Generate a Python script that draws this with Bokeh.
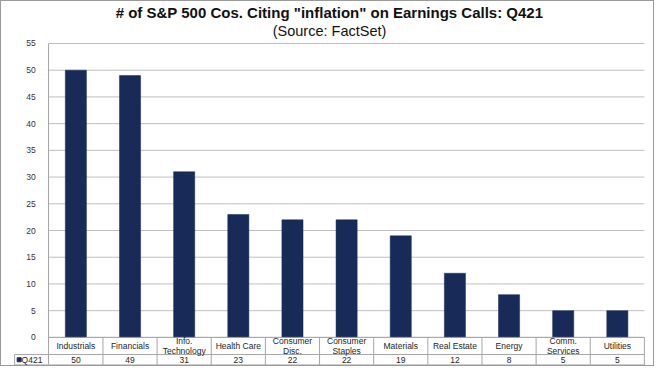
from bokeh.plotting import figure
from bokeh.models import Range1d, FixedTicker, Title, ColumnDataSource
from bokeh.embed import file_html
from bokeh.resources import INLINE
from bokeh.core.properties import value

# ---- data ----
categories = ["Industrials", "Financials", "Info.\nTechnology", "Health Care",
              "Consumer\nDisc.", "Consumer\nStaples", "Materials", "Real Estate",
              "Energy", "Comm.\nServices", "Utilities"]
q421 = [50, 49, 31, 23, 22, 22, 19, 12, 8, 5, 5]
series_name = "Q421"
y_ticks = [0, 5, 10, 15, 20, 25, 30, 35, 40, 45, 50, 55]
title_text = '# of S&P 500 Cos. Citing "inflation" on Earnings Calls: Q421'
subtitle_text = "(Source: FactSet)"

# ---- styling ----
FONT = "Liberation Sans"
NAVY = "#172a58"
LINE = "#a6a6a6"
GRID = "#bfbfbf"
TXT = "#1e1e1e"
ROW1 = 3.21        # depth of category-name row (data units below 0)
ROW2 = 5.16        # depth of the table bottom
LEFT_CELL = 0.632  # width of the series-name cell, in category widths
Y_MAX = y_ticks[-1]

n = len(categories)
centers = [i + 0.5 for i in range(n)]
src = ColumnDataSource(dict(x=centers, cat=categories, val=q421,
                            val_txt=[str(v) for v in q421]))

p = figure(width=654, height=366, output_backend="svg", toolbar_location=None,
           x_range=Range1d(-LEFT_CELL - 0.02, n + 0.02),
           y_range=Range1d(-ROW2 - 0.1, Y_MAX + 0.93),
           x_axis_location=None,
           min_border_left=12, min_border_right=10, min_border_top=35, min_border_bottom=2,
           background_fill_color="white", border_fill_color="white",
           outline_line_color=None)
p.styles = {"border": "1px solid #9a9a9a"}

# titles: main title on top, subtitle stacked just above the plot area
p.title.text = title_text
p.title.align = "center"
p.title.text_font = FONT
p.title.text_font_size = "15px"
p.title.text_font_style = "bold"
p.title.text_color = "#111111"
p.title.standoff = 0
p.add_layout(Title(text=subtitle_text, align="center", text_font=FONT,
                   text_font_size="14.5px", text_font_style="normal",
                   text_color="#111111", standoff=0), "above")

# y axis drawn at the start of the categories (x = 0)
p.yaxis.fixed_location = 0
p.yaxis.bounds = (-ROW2, Y_MAX)
p.yaxis.ticker = FixedTicker(ticks=y_ticks)
p.yaxis.axis_line_color = LINE
p.yaxis.major_tick_line_color = None
p.yaxis.minor_tick_line_color = None
p.yaxis.major_label_text_font = FONT
p.yaxis.major_label_text_font_size = "8.5px"
p.yaxis.major_label_text_color = "#333333"
p.yaxis.major_label_standoff = 7

p.xgrid.visible = False
p.ygrid.visible = False
# horizontal gridlines only across the plotting area
p.segment(x0=[0] * len(y_ticks), x1=[n] * len(y_ticks), y0=y_ticks, y1=y_ticks,
          line_color=GRID, line_width=1)

# bars
p.vbar(x="x", top="val", bottom=0, width=0.39, source=src,
       fill_color=NAVY, line_color=NAVY, line_width=0.5)

# data table under the chart
p.segment(x0=[0, -LEFT_CELL, -LEFT_CELL], x1=[n, n, n], y0=[0, -ROW1, -ROW2],
          y1=[0, -ROW1, -ROW2], line_color=LINE, line_width=1)
bounds = list(range(1, n + 1))
p.segment(x0=bounds, x1=bounds, y0=[0] * n, y1=[-ROW2] * n,
          line_color=LINE, line_width=1)
p.segment(x0=[-LEFT_CELL], x1=[-LEFT_CELL], y0=[-ROW1], y1=[-ROW2],
          line_color=LINE, line_width=1)
p.text(x="x", y=-ROW1 / 2, text="cat", source=src, text_align="center",
       text_baseline="middle", text_font=value(FONT), text_font_size="8.5px",
       text_line_height=1.0, text_color=TXT)
p.text(x="x", y=-(ROW1 + ROW2) / 2, text="val_txt", source=src, text_align="center",
       text_baseline="middle", text_font=value(FONT), text_font_size="8.5px",
       text_color=TXT)

# series name cell with legend swatch
p.scatter(x=[-LEFT_CELL + 0.085], y=[-(ROW1 + ROW2) / 2], marker="square", size=4,
          fill_color=NAVY, line_color=NAVY)
p.text(x=[-LEFT_CELL + 0.13], y=[-(ROW1 + ROW2) / 2], text=[series_name],
       text_align="left", text_baseline="middle", text_font=value(FONT),
       text_font_size="8.5px", text_color=TXT)

open("out.html", "w").write(file_html(p, INLINE))
